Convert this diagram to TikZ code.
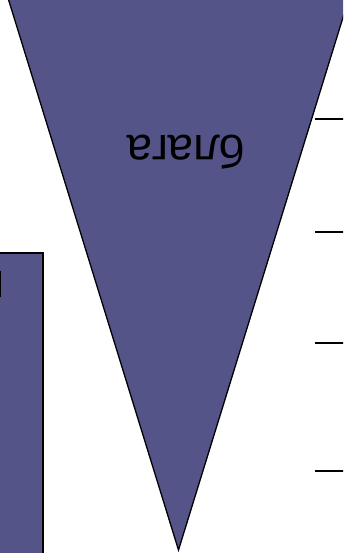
\documentclass[tikz,border=0pt]{standalone}
\usepackage{fontspec}
\setmainfont{Liberation Sans}
\definecolor{fillc}{RGB}{84,84,136}
\tikzset{shapefill/.style={fill=fillc, draw=black}, tick/.style={draw=black, line width=1.6pt}}
\begin{document}
\begin{tikzpicture}[x=1pt,y=-1pt]
\useasboundingbox (0,0) rectangle (343,553);
\begin{scope}
\clip (0,0) rectangle (343,553);
\draw[shapefill, line width=1.3pt] (8,-2) -- (349,-2) -- (178.5,550) -- cycle;
\draw[shapefill, line width=1.8pt] (-5,253) rectangle (43,560);
\draw[line width=1.4pt] (0.5,271) -- (0.5,297);
\coordinate (a1) at (315,119); \coordinate (b1) at (345,119);
\coordinate (a2) at (315,232); \coordinate (b2) at (345,232);
\coordinate (a3) at (315,343); \coordinate (b3) at (345,343);
\coordinate (a4) at (315,471); \coordinate (b4) at (345,471);
\draw[tick] (a1) -- (b1);
\draw[tick] (a2) -- (b2);
\draw[tick] (a3) -- (b3);
\draw[tick] (a4) -- (b4);
\end{scope}
\node[rotate=180, anchor=base, inner sep=0pt, font=\fontsize{46}{52}\selectfont] (t) at (186,135.5) {блага};
\end{tikzpicture}
\end{document}
